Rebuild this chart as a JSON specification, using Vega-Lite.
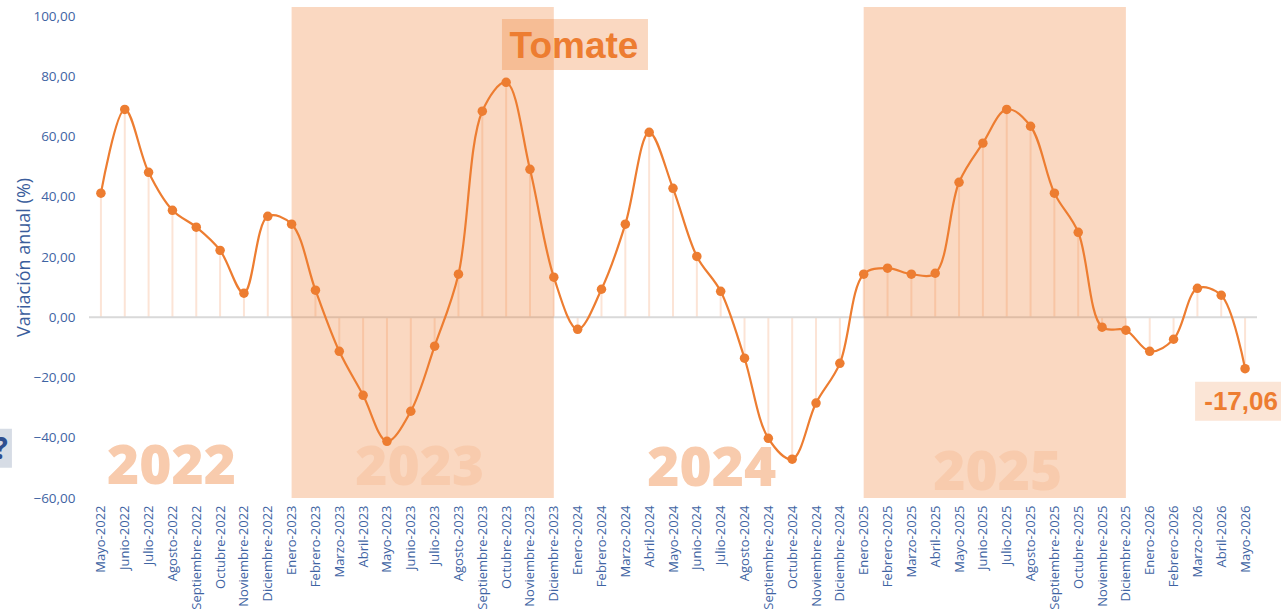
{
  "$schema": "https://vega.github.io/schema/vega-lite/v6.json",
  "width": 1168,
  "height": 482,
  "autosize": {"type": "none"},
  "padding": {"left": 89, "top": 16, "right": 24, "bottom": 112},
  "background": "white",
  "config": {"view": {"stroke": null}, "font": "Open Sans"},
  "datasets": {
    "serie": [
      {"mes": "Mayo-2022", "v": 41.2},
      {"mes": "Junio-2022", "v": 69.0},
      {"mes": "Julio-2022", "v": 48.1},
      {"mes": "Agosto-2022", "v": 35.5},
      {"mes": "Septiembre-2022", "v": 29.9},
      {"mes": "Octubre-2022", "v": 22.2},
      {"mes": "Noviembre-2022", "v": 8.0},
      {"mes": "Diciembre-2022", "v": 33.5},
      {"mes": "Enero-2023", "v": 30.9},
      {"mes": "Febrero-2023", "v": 9.0},
      {"mes": "Marzo-2023", "v": -11.3},
      {"mes": "Abril-2023", "v": -25.9},
      {"mes": "Mayo-2023", "v": -41.2},
      {"mes": "Junio-2023", "v": -31.2},
      {"mes": "Julio-2023", "v": -9.6},
      {"mes": "Agosto-2023", "v": 14.3},
      {"mes": "Septiembre-2023", "v": 68.4},
      {"mes": "Octubre-2023", "v": 78.0},
      {"mes": "Noviembre-2023", "v": 49.1},
      {"mes": "Diciembre-2023", "v": 13.3},
      {"mes": "Enero-2024", "v": -4.0},
      {"mes": "Febrero-2024", "v": 9.3},
      {"mes": "Marzo-2024", "v": 30.9},
      {"mes": "Abril-2024", "v": 61.4},
      {"mes": "Mayo-2024", "v": 42.8},
      {"mes": "Junio-2024", "v": 20.2},
      {"mes": "Julio-2024", "v": 8.6},
      {"mes": "Agosto-2024", "v": -13.6},
      {"mes": "Septiembre-2024", "v": -40.2},
      {"mes": "Octubre-2024", "v": -47.1},
      {"mes": "Noviembre-2024", "v": -28.5},
      {"mes": "Diciembre-2024", "v": -15.3},
      {"mes": "Enero-2025", "v": 14.3},
      {"mes": "Febrero-2025", "v": 16.3},
      {"mes": "Marzo-2025", "v": 14.3},
      {"mes": "Abril-2025", "v": 14.6},
      {"mes": "Mayo-2025", "v": 44.8},
      {"mes": "Junio-2025", "v": 57.8},
      {"mes": "Julio-2025", "v": 69.0},
      {"mes": "Agosto-2025", "v": 63.4},
      {"mes": "Septiembre-2025", "v": 41.2},
      {"mes": "Octubre-2025", "v": 28.2},
      {"mes": "Noviembre-2025", "v": -3.3},
      {"mes": "Diciembre-2025", "v": -4.3},
      {"mes": "Enero-2026", "v": -11.3},
      {"mes": "Febrero-2026", "v": -7.3},
      {"mes": "Marzo-2026", "v": 9.6},
      {"mes": "Abril-2026", "v": 7.3},
      {"mes": "Mayo-2026", "v": -17.06}
    ],
    "bandas": [
      {"desde": "Enero-2023", "hasta": "Diciembre-2023", "top": 103, "bottom": -60},
      {"desde": "Enero-2025", "hasta": "Diciembre-2025", "top": 103, "bottom": -60}
    ]
  },
  "encoding": {
    "x": {
      "field": "mes",
      "type": "ordinal",
      "sort": null,
      "scale": {"type": "point", "padding": 0.5},
      "axis": {
        "title": null,
        "labelAngle": 270,
        "labelColor": "#3f64a3",
        "labelFont": "Open Sans",
        "labelFontSize": 13,
        "labelPadding": 7,
        "ticks": false,
        "domain": false,
        "grid": false,
        "labelOverlap": false
      }
    }
  },
  "layer": [
    {
      "data": {"name": "serie"},
      "mark": {"type": "rule", "color": "#fce4d6", "strokeWidth": 2},
      "encoding": {
        "y": {
          "field": "v",
          "type": "quantitative",
          "scale": {"domain": [-60, 100], "nice": false, "zero": false},
          "axis": {
            "title": "Variación anual (%)",
            "titleFont": "Open Sans",
            "titleFontSize": 18,
            "titleFontWeight": "normal",
            "titleColor": "#3a5d9c",
            "titlePadding": -1,
            "values": [-60, -40, -20, 0, 20, 40, 60, 80, 100],
            "labelExpr": "replace(format(datum.value, '.2f'), '.', ',')",
            "labelColor": "#3f64a3",
            "labelFont": "Open Sans",
            "labelFontSize": 13.5,
            "labelPadding": 14,
            "ticks": false,
            "domain": false,
            "grid": false
          }
        },
        "y2": {"datum": 0}
      }
    },
    {
      "data": {"values": [{}]},
      "mark": {"type": "rule", "color": "#d9d9d9", "strokeWidth": 2},
      "encoding": {"y": {"datum": 0, "type": "quantitative"}, "x": null}
    },
    {
      "data": {"name": "bandas"},
      "mark": {"type": "rect", "color": "#ed7d31", "opacity": 0.3},
      "encoding": {
        "x": {"field": "desde", "type": "ordinal"},
        "x2": {"field": "hasta"},
        "y": {"field": "top", "type": "quantitative"},
        "y2": {"field": "bottom"}
      }
    },
    {
      "data": {"values": [{"t": "2022", "mes": "Agosto-2022"}]},
      "mark": {"type": "text", "font": "Open Sans", "fontWeight": 800, "fontSize": 55, "color": "#f8cbad", "align": "center", "baseline": "alphabetic", "dx": -1, "dy": -14},
      "encoding": {"x": {"field": "mes", "type": "ordinal"}, "y": {"datum": -60, "type": "quantitative"}, "text": {"field": "t"}}
    },
    {
      "data": {"values": [{"t": "2023", "mes": "Junio-2023"}]},
      "mark": {"type": "text", "font": "Open Sans", "fontWeight": 800, "fontSize": 55, "color": "#f8cbad", "align": "center", "baseline": "alphabetic", "dx": 9, "dy": -13},
      "encoding": {"x": {"field": "mes", "type": "ordinal"}, "y": {"datum": -60, "type": "quantitative"}, "text": {"field": "t"}}
    },
    {
      "data": {"values": [{"t": "2024", "mes": "Julio-2024"}]},
      "mark": {"type": "text", "font": "Open Sans", "fontWeight": 800, "fontSize": 55, "color": "#f8cbad", "align": "center", "baseline": "alphabetic", "dx": -9, "dy": -12},
      "encoding": {"x": {"field": "mes", "type": "ordinal"}, "y": {"datum": -60, "type": "quantitative"}, "text": {"field": "t"}}
    },
    {
      "data": {"values": [{"t": "2025", "mes": "Julio-2025"}]},
      "mark": {"type": "text", "font": "Open Sans", "fontWeight": 800, "fontSize": 55, "color": "#f8cbad", "align": "center", "baseline": "alphabetic", "dx": -9, "dy": -8},
      "encoding": {"x": {"field": "mes", "type": "ordinal"}, "y": {"datum": -60, "type": "quantitative"}, "text": {"field": "t"}}
    },
    {
      "data": {"name": "serie"},
      "mark": {"type": "line", "color": "#ed7d31", "strokeWidth": 2.2, "interpolate": "catmull-rom"},
      "encoding": {"y": {"field": "v", "type": "quantitative"}}
    },
    {
      "data": {"name": "serie"},
      "mark": {"type": "circle", "color": "#ed7d31", "opacity": 1, "size": 90},
      "encoding": {"y": {"field": "v", "type": "quantitative"}}
    },
    {
      "data": {"values": [{"mes": "Noviembre-2023", "t": "Tomate"}]},
      "mark": {"type": "rect", "color": "#ed7d31", "opacity": 0.3, "xOffset": -28, "x2Offset": 118, "yOffset": 3, "y2Offset": 54},
      "encoding": {
        "x": {"field": "mes", "type": "ordinal"},
        "x2": {"field": "mes"},
        "y": {"datum": 100, "type": "quantitative"},
        "y2": {"datum": 100}
      }
    },
    {
      "data": {"values": [{"mes": "Noviembre-2023", "t": "Tomate"}]},
      "mark": {"type": "text", "font": "Liberation Sans", "fontWeight": "bold", "fontSize": 37, "color": "#ed7d31", "align": "center", "baseline": "alphabetic", "dx": 44, "dy": 42},
      "encoding": {
        "x": {"field": "mes", "type": "ordinal"},
        "y": {"datum": 100, "type": "quantitative"},
        "text": {"field": "t"}
      }
    },
    {
      "data": {"values": [{"mes": "Mayo-2026", "v": -17.06, "t": "-17,06"}]},
      "mark": {"type": "rect", "color": "#fbe5d6", "opacity": 1, "xOffset": -50, "x2Offset": 40, "yOffset": 13, "y2Offset": 52},
      "encoding": {
        "x": {"field": "mes", "type": "ordinal"},
        "x2": {"field": "mes"},
        "y": {"field": "v", "type": "quantitative"},
        "y2": {"field": "v"}
      }
    },
    {
      "data": {"values": [{"mes": "Mayo-2026", "v": -17.06, "t": "-17,06"}]},
      "mark": {"type": "text", "font": "Liberation Sans", "fontWeight": "bold", "fontSize": 26, "color": "#ed7d31", "align": "center", "baseline": "middle", "dx": -4, "dy": 33},
      "encoding": {
        "x": {"field": "mes", "type": "ordinal"},
        "y": {"field": "v", "type": "quantitative"},
        "text": {"field": "t"}
      }
    },
    {
      "data": {"values": [{"mes": "Mayo-2022", "v": -40, "t": "?"}]},
      "mark": {"type": "rect", "color": "#d6dce5", "opacity": 1, "xOffset": -101, "x2Offset": -89, "yOffset": -9, "y2Offset": 30},
      "encoding": {
        "x": {"field": "mes", "type": "ordinal"},
        "x2": {"field": "mes"},
        "y": {"field": "v", "type": "quantitative"},
        "y2": {"field": "v"}
      }
    },
    {
      "data": {"values": [{"mes": "Mayo-2022", "v": -40, "t": "?"}]},
      "mark": {"type": "text", "font": "Open Sans", "fontWeight": "bold", "fontSize": 30, "color": "#2f4f8f", "align": "right", "baseline": "alphabetic", "dx": -93, "dy": 21},
      "encoding": {
        "x": {"field": "mes", "type": "ordinal"},
        "y": {"field": "v", "type": "quantitative"},
        "text": {"field": "t"}
      }
    }
  ]
}
